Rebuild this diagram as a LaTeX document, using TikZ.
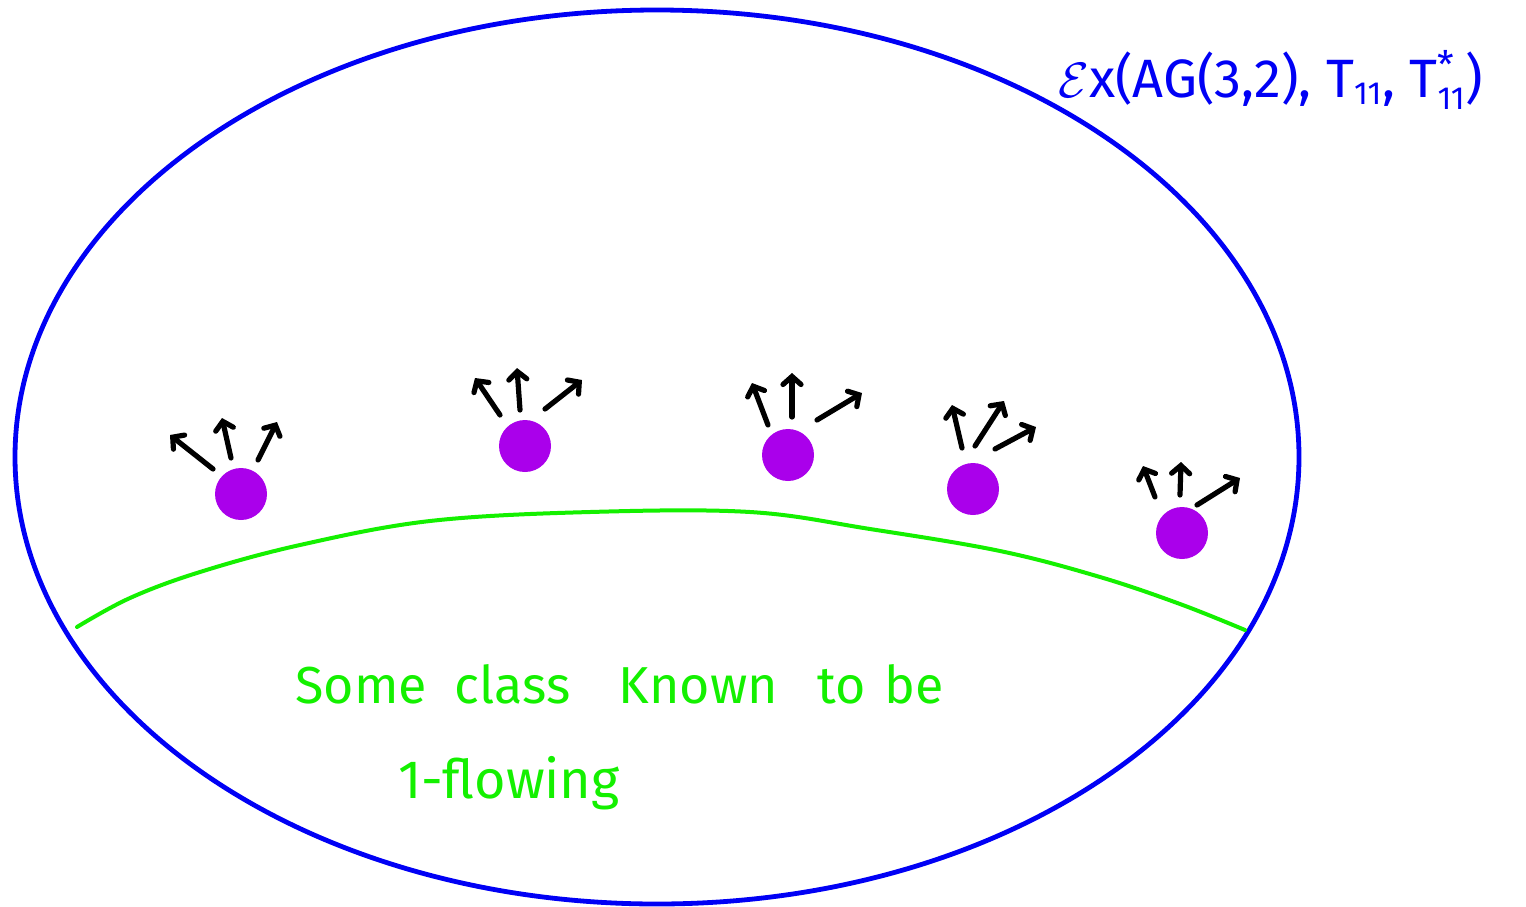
\documentclass[tikz,border=0pt]{standalone}
\usepackage{fontspec}
\setmainfont{Fira Sans}
\usetikzlibrary{arrows.meta}
\definecolor{ringblue}{RGB}{0,0,245}
\definecolor{dotc}{RGB}{170,0,235}
\definecolor{hgreen}{RGB}{20,240,0}
\begin{document}
\begin{tikzpicture}[x=0.5pt,y=-0.5pt,
  dot/.style={circle,fill=dotc,minimum size=26pt,inner sep=0pt},
  ray/.style={line width=2.6pt,line cap=round,-{Straight Barb[length=4pt,width=9pt,line cap=round]}},
  ring/.style={draw=ringblue,line width=2.4pt},
  curve/.style={draw=hgreen,line width=2pt,line cap=round},
  gtext/.style={text=hgreen,font=\fontsize{26}{31}\selectfont,inner sep=0pt,anchor=base west},
  btext/.style={text=ringblue,font=\fontsize{27}{32}\selectfont,inner sep=0pt,anchor=base west}]
\useasboundingbox (0,0) rectangle (1526,906);
% outer ellipse
\draw[ring] (657,457) ellipse [x radius=642, y radius=447];
\node[btext] (lbl) at (1058,97) {$\mathcal{E}$x(AG(3,2), T$_{\mbox{\fontsize{16}{16}\selectfont 11}}$, T$_{\mbox{\fontsize{16}{16}\selectfont 11}}^{\mbox{\fontsize{19}{19}\selectfont *}}$)};
% green boundary
\coordinate (gL) at (77,627);
\coordinate (gR) at (1245,630);
\draw[curve] plot[smooth,tension=0.6] coordinates {(gL) (130,598) (200,572) (300,545) (430,521) (590,512) (750,512) (870,529) (1000,551) (1100,577) (1180,604) (gR)};
\node[gtext] (t1) at (295,703) {Some\hspace{14pt}class\hspace{24pt}Known\hspace{20pt}to\hspace{9pt}be};
\node[gtext,font=\fontsize{27}{32}\selectfont] (t2) at (398,798) {1-flowing};
% dots
\node[dot] (d1) at (241,494) {};
\node[dot] (d2) at (525,446) {};
\node[dot] (d3) at (788,455) {};
\node[dot] (d4) at (973,489) {};
\node[dot] (d5) at (1182,533) {};
% arrows: tails and tips
\foreach \n/\ax/\ay/\bx/\by in {
  a1/213/469/170/435, b1/231/458/222/418, c1/258/460/277/422,
  a2/500/415/475/378, b2/520/410/517/368, c2/545/409/582/380,
  a3/768/425/752/383, b3/792/417/792/373, c3/817/420/862/393,
  a4/962/448/952/405, b4/975/446/1004/401, c4/995/449/1036/427,
  a5/1155/497/1143/466, b5/1180/495/1181/462, c5/1197/505/1240/478}{
  \coordinate (\n s) at (\ax,\ay);
  \coordinate (\n e) at (\bx,\by);
  \draw[ray] (\n s) -- (\n e);
}
\end{tikzpicture}
\end{document}
